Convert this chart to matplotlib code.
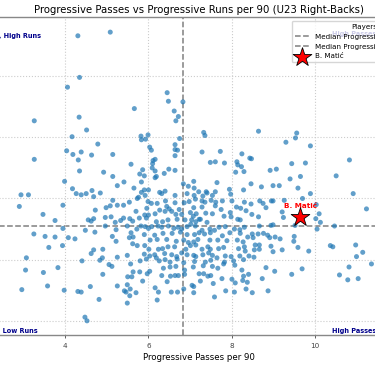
import matplotlib
matplotlib.use("Agg")
import matplotlib.pyplot as plt

# progressive passes / runs per 90, one entry per player
passes = [
    4.30, 5.08, 4.34, 4.05, 3.25, 4.33, 4.51, 4.16, 4.78, 4.03, 4.18, 4.38, 4.63, 5.14, 3.25, 4.31, 4.34, 4.92, 5.14,
    3.98, 5.25, 5.41, 4.17, 4.26, 4.38, 4.50, 4.64, 4.68, 4.84, 2.93, 3.11, 2.89, 3.94, 3.46, 3.75, 4.72, 4.98, 5.08,
    5.14, 5.25, 5.40, 4.55, 4.62, 4.68, 4.96, 5.10, 5.20, 5.33, 5.40, 4.96, 3.94, 4.48, 4.71, 5.22, 3.24, 3.51, 3.75,
    4.07, 4.23, 5.13, 5.22, 3.60, 3.93, 4.68, 4.90, 4.62, 3.06, 4.40, 4.83, 4.89, 5.25, 5.05, 5.12, 3.04, 3.82, 3.47,
    4.90, 3.57, 2.95, 3.97, 4.30, 4.38, 4.60, 5.25, 5.42, 4.81, 4.47, 4.52,
    5.66, 6.45, 6.48, 6.83, 6.62, 6.72, 6.66, 6.75, 5.82, 5.83, 5.93, 5.99, 6.64, 6.03, 6.07, 6.64, 6.70, 6.64, 6.16,
    6.11, 6.10, 5.58, 6.09, 5.86, 6.16, 6.49, 6.64, 6.38, 5.79, 5.90, 6.19, 7.33, 7.36, 7.29, 7.73, 8.25, 7.49, 7.61,
    7.83, 8.13, 8.15, 8.24, 8.44, 8.10, 8.30,
    8.65, 9.57, 9.54, 9.31, 9.90, 8.48, 9.45, 9.78, 10.84, 8.93, 9.08, 9.66, 10.52,
    9.41, 8.72, 9.00, 9.15, 8.47, 9.60, 9.90, 10.93, 8.47, 8.68, 8.76, 8.83, 8.96, 9.00, 9.27, 9.71, 10.04, 11.25,
    8.49, 8.65, 9.22, 9.25, 10.03, 10.11, 10.14, 9.00, 8.95, 8.67, 9.53, 10.06, 10.48, 8.50, 8.52, 8.64, 8.77, 8.87,
    8.92, 9.05, 9.17, 9.51, 9.50, 8.57, 8.67, 8.95, 8.55, 8.67, 9.00, 9.22, 9.60, 9.86, 10.38, 10.44, 10.99, 11.16,
    11.01, 8.54, 11.37, 8.83, 9.04, 9.70, 10.83, 9.45, 10.60, 8.74, 10.80, 11.05, 8.50, 8.88,
    5.83, 6.16, 6.84, 7.09, 7.65, 6.96, 7.10, 5.65, 5.90, 6.00, 5.83, 5.92, 5.76, 6.40, 6.64, 6.27, 6.32, 6.93, 7.21,
    7.39, 7.61, 7.95, 7.98, 8.29, 7.10, 7.31, 7.41, 7.54,
    5.54, 5.73, 5.99, 6.07, 6.21, 6.41, 6.44, 6.64, 6.86, 6.98, 7.13, 7.29, 7.36, 7.51, 7.62, 7.78, 8.01, 8.12, 8.31,
    7.61, 7.75, 7.29, 7.09, 5.96, 5.70, 6.27, 6.50, 6.74,
    5.55, 5.91, 6.00, 6.16, 6.40, 6.56, 6.66, 6.80, 7.01, 7.08, 7.15, 7.22, 7.38, 7.54, 7.82, 7.97, 8.22, 8.35, 5.62,
    5.78, 5.95, 6.19, 6.34, 6.47, 6.69, 6.88, 7.04, 7.14, 7.25, 7.41, 7.99, 8.15, 8.21,
    5.49, 5.72, 5.82, 5.92, 6.00, 6.08, 6.23, 6.32, 6.48, 6.61, 6.71, 6.80, 6.93, 7.02, 7.13, 7.29, 7.48, 7.59, 7.70,
    7.85, 8.07, 8.20, 8.31, 5.58, 5.54, 5.63, 5.90, 6.15, 6.35, 6.57, 6.77, 6.93, 7.11, 7.22, 7.35, 7.49, 7.78, 7.96,
    8.21, 8.39,
    6.04, 6.21, 6.44, 6.67, 6.85, 6.96, 7.09, 7.19, 7.48, 7.67, 7.89, 8.14, 8.28, 5.62, 5.73, 5.91, 6.47, 6.63, 7.01,
    7.14, 7.43, 7.49, 7.69, 7.81, 8.17, 8.31, 6.01, 6.24, 6.34, 6.90, 7.29, 8.33,
    5.49, 5.90, 6.03, 6.15, 6.19, 6.39, 6.56, 6.68, 6.80, 6.93, 7.09, 7.14, 7.31, 7.45, 7.54, 7.85, 7.99, 8.20, 8.42,
    5.57, 5.80, 5.95, 6.26, 6.40, 6.52, 6.69, 6.85, 7.11, 7.37, 7.50, 7.65, 7.83, 8.05, 8.29,
    5.63, 5.79, 5.97, 6.03, 6.36, 6.52, 6.66, 6.87, 7.08, 7.32, 7.33, 7.54, 7.67, 7.81, 8.08, 8.25, 5.50, 5.60, 6.32,
    6.53, 6.64, 6.72, 6.87, 7.22, 7.43, 7.50, 7.77, 8.29, 8.41,
    5.49, 5.56, 5.86, 6.45, 7.05, 7.25, 7.56, 8.01, 8.09, 8.27, 8.38, 5.46, 5.55, 5.49, 5.70, 6.16, 6.24, 6.55, 6.70,
    6.85, 7.09, 7.09, 7.59, 7.86, 8.07, 8.35, 6.21,
]
runs = [
    5.66, 5.72, 4.98, 4.82, 4.27, 4.33, 4.12, 4.01, 3.89, 3.78, 3.72, 3.76, 3.71, 3.72, 3.64, 3.63, 3.45, 3.43, 3.36,
    3.28, 3.21, 3.27, 3.16, 3.08, 3.06, 3.08, 3.13, 3.03, 3.09, 3.06, 3.06, 2.87, 2.89, 2.74, 2.64, 2.81, 2.85, 2.88,
    2.97, 2.89, 2.89, 2.65, 2.63, 2.67, 2.69, 2.70, 2.61, 2.64, 2.68, 2.55, 2.51, 2.48, 2.45, 2.49, 2.42, 2.38, 2.37,
    2.36, 2.34, 2.38, 2.30, 2.20, 2.23, 2.16, 2.17, 2.10, 2.03, 1.98, 1.99, 2.03, 2.04, 1.92, 1.89, 1.83, 1.87, 1.79,
    1.76, 1.57, 1.51, 1.50, 1.48, 1.47, 1.56, 1.57, 1.49, 1.35, 1.06, 1.00,
    4.47, 4.73, 4.59, 4.58, 4.43, 4.34, 4.27, 3.98, 4.02, 3.96, 3.97, 4.04, 3.88, 3.84, 3.79, 3.80, 3.79, 3.70, 3.64,
    3.62, 3.57, 3.56, 3.50, 3.47, 3.45, 3.48, 3.46, 3.41, 3.40, 3.37, 3.36, 4.08, 4.03, 3.76, 3.77, 3.73, 3.59, 3.60,
    3.58, 3.60, 3.55, 3.52, 3.66, 3.43, 3.44,
    4.10, 4.07, 3.99, 3.92, 3.86, 3.65, 3.57, 3.58, 3.63, 3.46, 3.48, 3.36, 3.37,
    3.32, 3.19, 3.21, 3.21, 3.24, 3.17, 3.08, 3.08, 2.91, 2.96, 2.92, 2.85, 2.96, 2.96, 2.97, 3.00, 2.90, 2.83,
    2.74, 2.70, 2.78, 2.69, 2.67, 2.75, 2.61, 2.57, 2.56, 2.55, 2.56, 2.50, 2.55, 2.42, 2.36, 2.42, 2.43, 2.40,
    2.36, 2.37, 2.34, 2.38, 2.30, 2.24, 2.24, 2.22, 2.16, 2.17, 2.13, 2.16, 2.20, 2.14, 2.23, 2.21, 2.24, 2.12,
    2.05, 2.04, 1.93, 1.87, 1.81, 1.85, 1.88, 1.76, 1.75, 1.69, 1.67, 1.69, 1.46, 1.49,
    3.27, 3.34, 3.24, 3.28, 3.26, 3.20, 3.17, 3.17, 3.14, 3.14, 3.10, 3.05, 3.02, 3.12, 3.05, 3.10, 3.08, 3.08, 3.11,
    3.11, 3.11, 3.15, 3.07, 3.14, 3.05, 3.04, 3.09, 3.05,
    2.94, 3.00, 2.95, 2.92, 2.92, 2.96, 2.87, 2.93, 2.93, 2.95, 2.99, 2.96, 2.94, 2.97, 2.94, 2.96, 2.96, 2.86, 2.94,
    2.88, 2.82, 2.86, 2.85, 2.84, 2.79, 2.81, 2.83, 2.82,
    2.67, 2.73, 2.73, 2.75, 2.79, 2.79, 2.74, 2.74, 2.77, 2.71, 2.75, 2.66, 2.76, 2.75, 2.71, 2.77, 2.84, 2.80, 2.63,
    2.68, 2.68, 2.62, 2.62, 2.65, 2.66, 2.65, 2.65, 2.62, 2.66, 2.61, 2.70, 2.66, 2.65,
    2.55, 2.50, 2.55, 2.54, 2.51, 2.54, 2.55, 2.53, 2.55, 2.51, 2.53, 2.50, 2.54, 2.58, 2.55, 2.48, 2.50, 2.48, 2.53,
    2.54, 2.50, 2.49, 2.53, 2.44, 2.36, 2.37, 2.41, 2.40, 2.43, 2.43, 2.45, 2.41, 2.41, 2.44, 2.42, 2.44, 2.39, 2.44,
    2.43, 2.37,
    2.32, 2.33, 2.33, 2.30, 2.32, 2.28, 2.29, 2.33, 2.32, 2.32, 2.31, 2.32, 2.29, 2.26, 2.23, 2.23, 2.21, 2.21, 2.23,
    2.24, 2.21, 2.17, 2.18, 2.20, 2.18, 2.21, 2.17, 2.17, 2.18, 2.17, 2.17, 2.14,
    2.07, 2.09, 2.06, 2.08, 2.03, 2.10, 2.08, 2.05, 2.11, 2.08, 2.07, 2.05, 2.08, 2.11, 2.07, 2.06, 2.05, 2.06, 2.06,
    1.93, 1.98, 2.01, 1.98, 2.00, 1.96, 2.01, 1.95, 1.97, 1.96, 1.99, 2.03, 1.96, 1.98, 2.00,
    1.80, 1.80, 1.77, 1.81, 1.86, 1.88, 1.89, 1.83, 1.88, 1.90, 1.77, 1.89, 1.86, 1.93, 1.91, 1.83, 1.72, 1.72, 1.74,
    1.73, 1.74, 1.74, 1.76, 1.77, 1.73, 1.74, 1.69, 1.73, 1.76,
    1.59, 1.52, 1.65, 1.64, 1.58, 1.65, 1.61, 1.68, 1.62, 1.66, 1.63, 1.47, 1.41, 1.29, 1.46, 1.54, 1.47, 1.47, 1.47,
    1.52, 1.56, 1.46, 1.39, 1.49, 1.47, 1.52, 1.34,
]

player_name = "B. Matić"
player_passes = 9.66
player_runs = 2.70
median_passes = 6.82
median_runs = 2.55

fig = plt.figure(figsize=(3.75, 3.66), dpi=100)
# the axes run past both edges of the picture, like the cropped original
ax = fig.add_axes([-0.181, 0.085, 1.424, 0.869])

ax.scatter(passes, runs, s=13, color="#1f77b4", alpha=0.7, edgecolors="none", zorder=2)
ax.axvline(median_passes, color="gray", ls="--", lw=1.1,
           label=f"Median Progressive Passes ({median_passes:.2f})", zorder=1)
ax.axhline(median_runs, color="gray", ls="--", lw=1.1,
           label=f"Median Progressive Runs ({median_runs:.2f})", zorder=1)
ax.scatter([player_passes], [player_runs], marker="*", s=200, color="red",
           edgecolors="black", linewidths=0.6, zorder=5, label=player_name)
ax.annotate(player_name, (player_passes, player_runs), xytext=(0, 5.5), textcoords="offset points",
            ha="center", va="bottom", color="red", fontsize=5.2, fontweight="bold")

# quadrant captions
cap = dict(fontsize=4.7, fontweight="bold", color="darkblue", va="center")
ax.text(3.41, 5.66, "Low Passes, High Runs", ha="right", **cap)
ax.text(3.34, 0.83, "Low Passes, Low Runs", ha="right", **cap)
ax.text(10.43, 0.83, "High Passes, Low Runs", ha="left", **cap)
ax.text(10.43, 5.69, "High Passes, High Runs", ha="left", **cap)

ax.set_xlim(0.79, 13.65)
ax.set_ylim(0.77, 5.97)
ax.set_xticks([2, 4, 6, 8, 10, 12])
ax.set_yticks([1, 2, 3, 4, 5])
ax.tick_params(labelsize=5.2, length=2.5, width=0.6, colors="#444444")
ax.grid(True, ls=":", color="#cccccc", lw=0.8, zorder=0)
for s in ax.spines.values():
    s.set_color("#888888")
    s.set_linewidth(1.0)

ax.set_title("Progressive Passes vs Progressive Runs per 90 (U23 Right-Backs)", fontsize=7.3, pad=3)
ax.set_xlabel("Progressive Passes per 90", fontsize=6.2, labelpad=3)

ax.legend(loc="upper left", bbox_to_anchor=(292 / 375, 1 - 21 / 366), bbox_transform=fig.transFigure,
          borderaxespad=0, title="Players", fontsize=5.1, title_fontsize=5.1, framealpha=0.8)

fig.savefig("out.png", dpi=100)
